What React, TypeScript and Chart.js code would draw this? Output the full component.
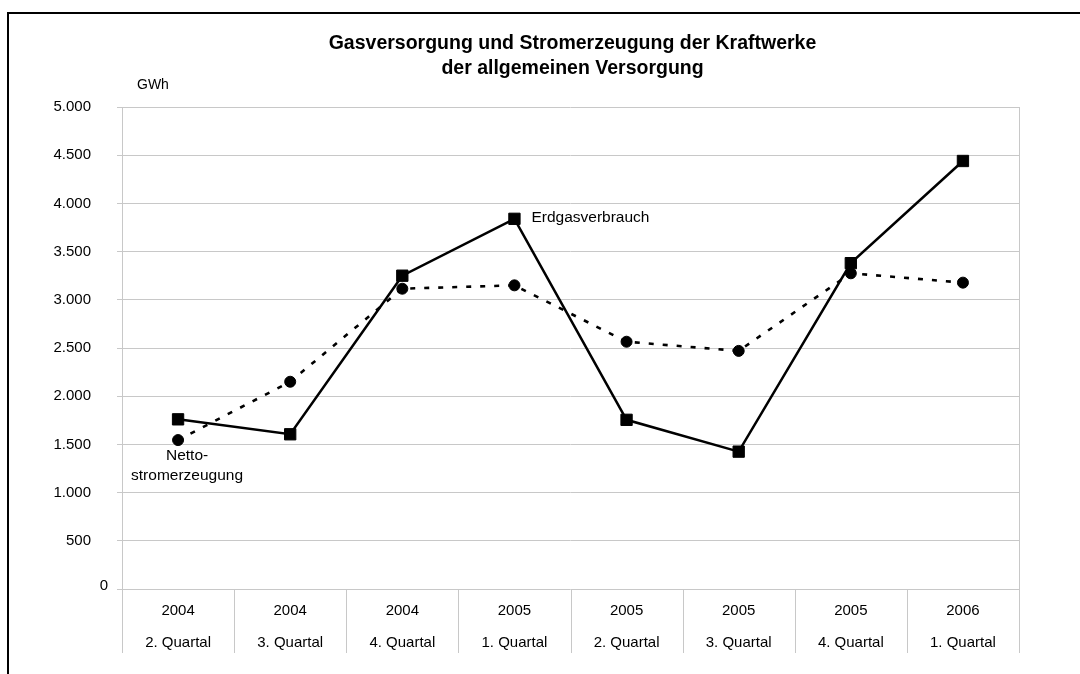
import React, { useEffect, useRef } from 'react';
import { Chart, registerables } from 'chart.js';

Chart.register(...registerables);

// ---- Data ----
const years = ['2004', '2004', '2004', '2005', '2005', '2005', '2005', '2006'];
const quarters = ['2. Quartal', '3. Quartal', '4. Quartal', '1. Quartal', '2. Quartal', '3. Quartal', '4. Quartal', '1. Quartal'];
const erdgasverbrauch = [1760, 1605, 3250, 3840, 1755, 1425, 3380, 4440];
const nettostromerzeugung = [1545, 2150, 3115, 3150, 2565, 2470, 3275, 3178];
const titleLines = ['Gasversorgung und Stromerzeugung der Kraftwerke', 'der allgemeinen Versorgung'];
const unitLabel = 'GWh';
const seriesLabelErdgas = ['Erdgasverbrauch'];
const seriesLabelNetto = ['Netto-', 'stromerzeugung'];
const yMin = 0;
const yMax = 5000;
const yStep = 500;

const FONT = "'Liberation Sans', Arial, Helvetica, sans-serif";
const GRID = '#c8c8c8';

const fmt = (v: number) => String(v).replace(/\B(?=(\d{3})+(?!\d))/g, '.');

const decorPlugin = {
  id: 'decor',
  afterDraw(chart: any) {
    const ctx = chart.ctx as CanvasRenderingContext2D;
    const { left, right, top, bottom } = chart.chartArea;
    const xs = chart.scales.x;
    const ys = chart.scales.y;
    const n = years.length;

    ctx.save();
    // category frame / dividers
    ctx.strokeStyle = GRID;
    ctx.lineWidth = 1;
    for (let i = 0; i <= n; i++) {
      const x = Math.round(xs.getPixelForValue(i - 0.5)) + 0.5;
      const y1 = i === 0 || i === n ? top : bottom;
      ctx.beginPath();
      ctx.moveTo(x, y1);
      ctx.lineTo(x, bottom + 64);
      ctx.stroke();
    }

    // zero tick label (offset as in reference)
    ctx.fillStyle = '#000';
    ctx.font = `15px ${FONT}`;
    ctx.textAlign = 'right';
    ctx.textBaseline = 'middle';
    ctx.fillText(fmt(yMin), left - 14, ys.getPixelForValue(yMin) - 3);

    // unit
    ctx.font = `14px ${FONT}`;
    ctx.textAlign = 'left';
    ctx.fillText(unitLabel, left + 15, top - 22);

    // title
    ctx.font = `bold 19.5px ${FONT}`;
    ctx.textAlign = 'center';
    const cx = (left + right) / 2 + 2;
    titleLines.forEach((t, i) => ctx.fillText(t, cx, 43.5 + i * 25));

    // series annotations
    ctx.font = `15.5px ${FONT}`;
    const pE = chart.getDatasetMeta(0).data[3];
    ctx.textAlign = 'left';
    seriesLabelErdgas.forEach((t, i) => ctx.fillText(t, pE.x + 17, pE.y - 1 + i * 19));
    const pN = chart.getDatasetMeta(1).data[0];
    ctx.textAlign = 'center';
    seriesLabelNetto.forEach((t, i) => ctx.fillText(t, pN.x + 9, pN.y + 16 + i * 19.5));
    ctx.restore();
  },
};

export default function App() {
  const ref = useRef<HTMLCanvasElement | null>(null);

  useEffect(() => {
    if (!ref.current) return;
    const labels = years.map((y, i) => [y, quarters[i]]);
    const chart = new Chart(ref.current, {
      type: 'line',
      data: {
        labels,
        datasets: [
          {
            label: 'Erdgasverbrauch',
            data: erdgasverbrauch,
            borderColor: '#000',
            backgroundColor: '#000',
            borderWidth: 2.5,
            pointStyle: 'rect',
            pointRadius: 8,
            pointBorderWidth: 1,
            pointBorderColor: '#000',
            pointBackgroundColor: '#000',
            tension: 0,
          },
          {
            label: 'Nettostromerzeugung',
            data: nettostromerzeugung,
            borderColor: '#000',
            backgroundColor: '#000',
            borderWidth: 2.6,
            borderDash: [5, 9],
            pointStyle: 'circle',
            pointRadius: 5.5,
            pointBorderWidth: 1,
            pointBorderColor: '#000',
            pointBackgroundColor: '#000',
            tension: 0,
          },
        ],
      },
      options: {
        animation: false,
        responsive: false,
        events: [],
        layout: { padding: { left: 8, right: 61, top: 107, bottom: 15 } },
        plugins: {
          legend: { display: false },
          tooltip: { enabled: false },
          title: { display: false },
        },
        scales: {
          x: {
            offset: true,
            grid: { display: false, drawTicks: false },
            border: { display: false },
            ticks: {
              padding: 6,
              color: '#000',
              maxRotation: 0,
              autoSkip: false,
              font: { family: FONT, size: 15, lineHeight: 32 / 15 },
            },
            afterFit: (s: any) => {
              s.height = 70;
            },
          },
          y: {
            min: yMin,
            max: yMax,
            grid: { color: GRID, lineWidth: 1, drawTicks: true, tickLength: 5 },
            border: { display: false },
            ticks: {
              stepSize: yStep,
              padding: 26,
              color: '#000',
              font: { family: FONT, size: 15 },
              callback: (v: any) => (Number(v) === yMin ? '' : fmt(Number(v))),
            },
            afterFit: (s: any) => {
              s.width = 114;
            },
          },
        },
      },
      plugins: [decorPlugin],
    } as any);
    return () => chart.destroy();
  }, []);

  return (
    <>
      <canvas
        ref={ref}
        width={1080}
        height={674}
        style={{ position: 'fixed', left: 0, top: 0, width: 1080, height: 674, display: 'block', background: '#fff' }}
      />
      <div
        style={{
          position: 'fixed',
          left: 7,
          top: 12,
          width: 1400,
          height: 1000,
          borderTop: '2px solid #000',
          borderLeft: '2px solid #000',
          pointerEvents: 'none',
        }}
      />
    </>
  );
}
